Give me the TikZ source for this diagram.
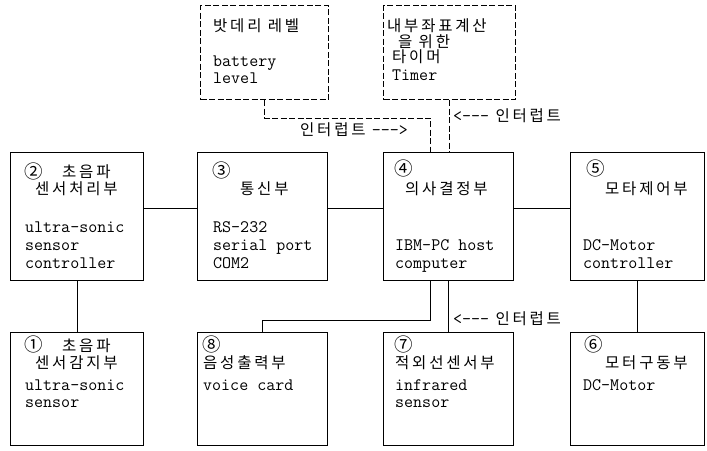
\documentclass[tikz,border=0pt]{standalone}
\usepackage{fontspec}
\newfontfamily\kor[LetterSpace=18]{Noto Sans CJK KR}

\tikzset{
  unit/.style={draw, line width=1pt, inner sep=0pt, anchor=north west, minimum height=128pt},
  lowunit/.style={unit, minimum height=113pt},
  dunit/.style={unit, minimum height=94pt, dash pattern=on 6pt off 2.5pt},
  kt/.style={font=\kor\fontsize{15.5}{16}\selectfont, inner sep=0pt, anchor=base west},
  nt/.style={kt, font=\kor\fontsize{18.5}{19}\selectfont},
  et/.style={font=\ttfamily\fontsize{17.5}{18}\selectfont, inner sep=0pt, anchor=base west},
  link/.style={line width=1pt},
  ilink/.style={link, dash pattern=on 6pt off 2.5pt},
}
\newcommand{\arrtxt}[1]{{\ttfamily\fontsize{17.5}{18}\selectfont #1}}

\begin{document}
\begin{tikzpicture}[x=1pt,y=-1pt]
\useasboundingbox (0,0) rectangle (707,450);

% battery & timer
\node[dunit, minimum width=128pt] (bat) at (200,5) {};
\node[dunit, minimum width=132pt] (tmr) at (383,5) {};
% middle row
\node[unit, minimum width=133pt] (b2) at (10,152) {};
\node[unit, minimum width=130pt] (b3) at (197,152) {};
\node[unit, minimum width=130pt] (b4) at (383,152) {};
\node[unit, minimum width=134pt] (b5) at (570,152) {};
% bottom row
\node[lowunit, minimum width=133pt] (b1) at (10,332) {};
\node[lowunit, minimum width=130pt] (b8) at (197,332) {};
\node[lowunit, minimum width=130pt] (b7) at (383,332) {};
\node[lowunit, minimum width=134pt] (b6) at (570,332) {};

% texts
\node[kt] (batk) at (213,31) {밧데리 레벨};
\node[et] (bate1) at (213,66) {battery};
\node[et] (bate2) at (213,83) {level};

\node[kt] (tmrk1) at (387,31) {내부좌표계산};
\node[kt] (tmrk2) at (398,47) {을 위한};
\node[kt] (tmrk3) at (392,62) {타이머};
\node[et] (tmre) at (392,80) {Timer};

\node[nt] (n2) at (24,178) {②};
\node[kt] (k2a) at (62,177) {초음파};
\node[kt] (k2b) at (35,194) {센서처리부};
\node[et] (e2a) at (25,232) {ultra-sonic};
\node[et] (e2b) at (25,250) {sensor};
\node[et] (e2c) at (25,268) {controller};

\node[nt] (n3) at (212,177) {③};
\node[kt] (k3) at (240,194) {통신부};
\node[et] (e3a) at (213,232) {RS-232};
\node[et] (e3b) at (213,250) {serial port};
\node[et] (e3c) at (213,268) {COM2};

\node[nt] (n4) at (394,175) {④};
\node[kt] (k4) at (405,194) {의사결정부};
\node[et] (e4a) at (395,250) {IBM-PC host};
\node[et] (e4b) at (395,268) {computer};

\node[nt] (n5) at (586,175) {⑤};
\node[kt] (k5) at (605,194) {모타제어부};
\node[et] (e5a) at (583,250) {DC-Motor};
\node[et] (e5b) at (583,268) {controller};

\node[nt] (n1) at (24,351) {①};
\node[kt] (k1a) at (62,351) {초음파};
\node[kt] (k1b) at (35,368) {센서감지부};
\node[et] (e1a) at (25,390) {ultra-sonic};
\node[et] (e1b) at (25,407) {sensor};

\node[nt] (n8) at (202,351) {⑧};
\node[kt] (k8) at (203,368) {음성출력부};
\node[et] (e8) at (203,390) {voice card};

\node[nt] (n7) at (394,351) {⑦};
\node[kt] (k7) at (395,368) {적외선센서부};
\node[et] (e7a) at (395,390) {infrared};
\node[et] (e7b) at (395,407) {sensor};

\node[nt] (n6) at (584,351) {⑥};
\node[kt] (k6) at (605,368) {모터구동부};
\node[et] (e6) at (583,390) {DC-Motor};

% interrupt labels
\node[kt] (int1) at (300,135) {인터럽트 \arrtxt{-{}-{}->}};
\node[kt] (int2) at (453,121) {\arrtxt{<-{}-{}-} 인터럽트};
\node[kt] (int3) at (453,324) {\arrtxt{<-{}-{}-} 인터럽트};

% connections
\draw[link] ([yshift=8pt]b2.east) -- ([yshift=8pt]b3.west);
\draw[link] ([yshift=8pt]b3.east) -- ([yshift=8pt]b4.west);
\draw[link] ([yshift=8pt]b4.east) -- ([yshift=8pt]b5.west);
\draw[link] (b2.south) -- (b1.north);
\draw[link] (b5.south) -- (b6.north);
\draw[link] (b4.south) -- (b7.north);
\draw[link] ([xshift=-18pt]b4.south) -- ++(0,39) -| (b8.north);
\draw[ilink] (bat.south) -- ++(0,18) -| ([xshift=-18pt]b4.north);
\draw[ilink] (tmr.south) -- (tmr.south |- b4.north);
\end{tikzpicture}
\end{document}
